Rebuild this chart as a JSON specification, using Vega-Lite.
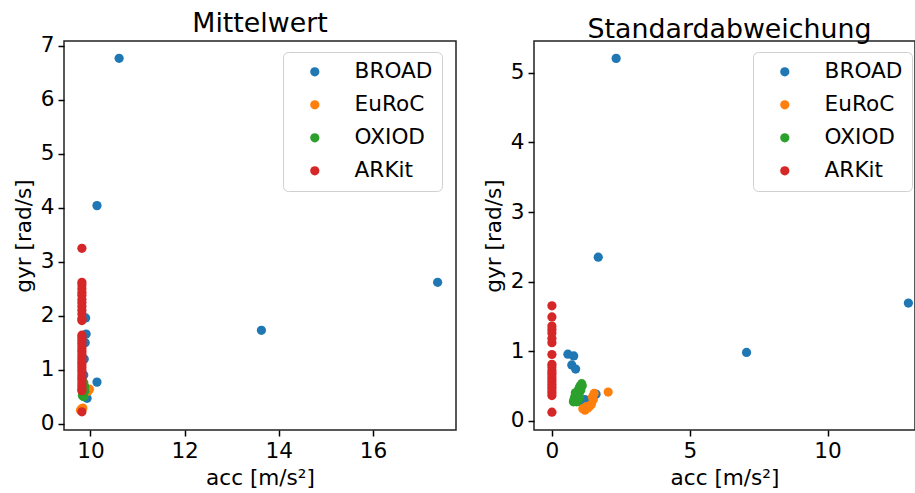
{
  "$schema": "https://vega.github.io/schema/vega-lite/v6.json",
  "background": "white",
  "padding": {"left": 12, "top": 10, "right": 0, "bottom": 0},
  "spacing": 78,
  "bounds": "flush",
  "datasets": {
    "mean": [
      {"Datensatz": "BROAD", "acc": 10.61, "gyr": 6.77},
      {"Datensatz": "BROAD", "acc": 10.14, "gyr": 4.04},
      {"Datensatz": "BROAD", "acc": 13.63, "gyr": 1.73},
      {"Datensatz": "BROAD", "acc": 17.37, "gyr": 2.62},
      {"Datensatz": "BROAD", "acc": 10.14, "gyr": 0.77},
      {"Datensatz": "BROAD", "acc": 9.9, "gyr": 1.96},
      {"Datensatz": "BROAD", "acc": 9.91, "gyr": 1.66},
      {"Datensatz": "BROAD", "acc": 9.89, "gyr": 1.5},
      {"Datensatz": "BROAD", "acc": 9.93, "gyr": 0.47},
      {"Datensatz": "BROAD", "acc": 9.87, "gyr": 1.2},
      {"Datensatz": "BROAD", "acc": 9.86, "gyr": 0.9},
      {"Datensatz": "EuRoC", "acc": 9.98, "gyr": 0.64},
      {"Datensatz": "EuRoC", "acc": 9.95, "gyr": 0.6},
      {"Datensatz": "EuRoC", "acc": 9.84, "gyr": 0.29},
      {"Datensatz": "EuRoC", "acc": 9.81, "gyr": 0.27},
      {"Datensatz": "EuRoC", "acc": 9.79, "gyr": 0.25},
      {"Datensatz": "OXIOD", "acc": 9.86, "gyr": 0.76},
      {"Datensatz": "OXIOD", "acc": 9.87, "gyr": 0.7},
      {"Datensatz": "OXIOD", "acc": 9.85, "gyr": 0.65},
      {"Datensatz": "OXIOD", "acc": 9.88, "gyr": 0.6},
      {"Datensatz": "OXIOD", "acc": 9.84, "gyr": 0.56},
      {"Datensatz": "OXIOD", "acc": 9.83, "gyr": 0.52},
      {"Datensatz": "OXIOD", "acc": 9.86, "gyr": 0.5},
      {"Datensatz": "OXIOD", "acc": 9.85, "gyr": 0.58},
      {"Datensatz": "OXIOD", "acc": 9.88, "gyr": 0.68},
      {"Datensatz": "ARKit", "acc": 9.82, "gyr": 3.25},
      {"Datensatz": "ARKit", "acc": 9.82, "gyr": 2.62},
      {"Datensatz": "ARKit", "acc": 9.82, "gyr": 2.57},
      {"Datensatz": "ARKit", "acc": 9.82, "gyr": 2.5},
      {"Datensatz": "ARKit", "acc": 9.82, "gyr": 2.43},
      {"Datensatz": "ARKit", "acc": 9.82, "gyr": 2.38},
      {"Datensatz": "ARKit", "acc": 9.82, "gyr": 2.3},
      {"Datensatz": "ARKit", "acc": 9.82, "gyr": 2.24},
      {"Datensatz": "ARKit", "acc": 9.82, "gyr": 2.17},
      {"Datensatz": "ARKit", "acc": 9.82, "gyr": 2.1},
      {"Datensatz": "ARKit", "acc": 9.82, "gyr": 2.03},
      {"Datensatz": "ARKit", "acc": 9.82, "gyr": 1.95},
      {"Datensatz": "ARKit", "acc": 9.82, "gyr": 1.91},
      {"Datensatz": "ARKit", "acc": 9.82, "gyr": 1.64},
      {"Datensatz": "ARKit", "acc": 9.82, "gyr": 1.59},
      {"Datensatz": "ARKit", "acc": 9.82, "gyr": 1.54},
      {"Datensatz": "ARKit", "acc": 9.82, "gyr": 1.49},
      {"Datensatz": "ARKit", "acc": 9.82, "gyr": 1.44},
      {"Datensatz": "ARKit", "acc": 9.82, "gyr": 1.39},
      {"Datensatz": "ARKit", "acc": 9.82, "gyr": 1.34},
      {"Datensatz": "ARKit", "acc": 9.82, "gyr": 1.29},
      {"Datensatz": "ARKit", "acc": 9.82, "gyr": 1.24},
      {"Datensatz": "ARKit", "acc": 9.82, "gyr": 1.19},
      {"Datensatz": "ARKit", "acc": 9.82, "gyr": 1.14},
      {"Datensatz": "ARKit", "acc": 9.82, "gyr": 1.09},
      {"Datensatz": "ARKit", "acc": 9.82, "gyr": 1.04},
      {"Datensatz": "ARKit", "acc": 9.82, "gyr": 0.99},
      {"Datensatz": "ARKit", "acc": 9.82, "gyr": 0.94},
      {"Datensatz": "ARKit", "acc": 9.82, "gyr": 0.89},
      {"Datensatz": "ARKit", "acc": 9.82, "gyr": 0.84},
      {"Datensatz": "ARKit", "acc": 9.82, "gyr": 0.79},
      {"Datensatz": "ARKit", "acc": 9.82, "gyr": 0.74},
      {"Datensatz": "ARKit", "acc": 9.82, "gyr": 0.69},
      {"Datensatz": "ARKit", "acc": 9.82, "gyr": 0.64},
      {"Datensatz": "ARKit", "acc": 9.82, "gyr": 0.61},
      {"Datensatz": "ARKit", "acc": 9.82, "gyr": 0.22}
    ],
    "std": [
      {"Datensatz": "BROAD", "acc": 2.33, "gyr": 5.21},
      {"Datensatz": "BROAD", "acc": 1.68, "gyr": 2.35},
      {"Datensatz": "BROAD", "acc": 7.06, "gyr": 0.98},
      {"Datensatz": "BROAD", "acc": 12.93, "gyr": 1.69},
      {"Datensatz": "BROAD", "acc": 0.58, "gyr": 0.955},
      {"Datensatz": "BROAD", "acc": 0.79, "gyr": 0.93},
      {"Datensatz": "BROAD", "acc": 0.72, "gyr": 0.8},
      {"Datensatz": "BROAD", "acc": 0.86, "gyr": 0.74},
      {"Datensatz": "BROAD", "acc": 1.6, "gyr": 0.38},
      {"Datensatz": "BROAD", "acc": 1.12, "gyr": 0.24},
      {"Datensatz": "BROAD", "acc": 1.2, "gyr": 0.3},
      {"Datensatz": "EuRoC", "acc": 2.04, "gyr": 0.41},
      {"Datensatz": "EuRoC", "acc": 1.53, "gyr": 0.39},
      {"Datensatz": "EuRoC", "acc": 1.47, "gyr": 0.34},
      {"Datensatz": "EuRoC", "acc": 1.5, "gyr": 0.3},
      {"Datensatz": "EuRoC", "acc": 1.43, "gyr": 0.23},
      {"Datensatz": "EuRoC", "acc": 1.35, "gyr": 0.2},
      {"Datensatz": "EuRoC", "acc": 1.24, "gyr": 0.2},
      {"Datensatz": "EuRoC", "acc": 1.3, "gyr": 0.18},
      {"Datensatz": "EuRoC", "acc": 1.2, "gyr": 0.15},
      {"Datensatz": "EuRoC", "acc": 1.12, "gyr": 0.17},
      {"Datensatz": "OXIOD", "acc": 0.78, "gyr": 0.27},
      {"Datensatz": "OXIOD", "acc": 0.8, "gyr": 0.3},
      {"Datensatz": "OXIOD", "acc": 0.82, "gyr": 0.33},
      {"Datensatz": "OXIOD", "acc": 0.85, "gyr": 0.29},
      {"Datensatz": "OXIOD", "acc": 0.86, "gyr": 0.36},
      {"Datensatz": "OXIOD", "acc": 0.88, "gyr": 0.32},
      {"Datensatz": "OXIOD", "acc": 0.9, "gyr": 0.39},
      {"Datensatz": "OXIOD", "acc": 0.92, "gyr": 0.35},
      {"Datensatz": "OXIOD", "acc": 0.94, "gyr": 0.42},
      {"Datensatz": "OXIOD", "acc": 0.95, "gyr": 0.3},
      {"Datensatz": "OXIOD", "acc": 0.97, "gyr": 0.45},
      {"Datensatz": "OXIOD", "acc": 0.99, "gyr": 0.4},
      {"Datensatz": "OXIOD", "acc": 1.0, "gyr": 0.48},
      {"Datensatz": "OXIOD", "acc": 1.03, "gyr": 0.5},
      {"Datensatz": "OXIOD", "acc": 1.05, "gyr": 0.44},
      {"Datensatz": "OXIOD", "acc": 1.08, "gyr": 0.53},
      {"Datensatz": "OXIOD", "acc": 1.1, "gyr": 0.5},
      {"Datensatz": "OXIOD", "acc": 0.9, "gyr": 0.27},
      {"Datensatz": "OXIOD", "acc": 1.0, "gyr": 0.34},
      {"Datensatz": "OXIOD", "acc": 0.85, "gyr": 0.4},
      {"Datensatz": "ARKit", "acc": 0.0, "gyr": 1.65},
      {"Datensatz": "ARKit", "acc": 0.0, "gyr": 1.49},
      {"Datensatz": "ARKit", "acc": 0.0, "gyr": 1.36},
      {"Datensatz": "ARKit", "acc": 0.0, "gyr": 1.31},
      {"Datensatz": "ARKit", "acc": 0.0, "gyr": 1.26},
      {"Datensatz": "ARKit", "acc": 0.0, "gyr": 1.18},
      {"Datensatz": "ARKit", "acc": 0.0, "gyr": 1.12},
      {"Datensatz": "ARKit", "acc": 0.0, "gyr": 0.95},
      {"Datensatz": "ARKit", "acc": 0.0, "gyr": 0.81},
      {"Datensatz": "ARKit", "acc": 0.0, "gyr": 0.77},
      {"Datensatz": "ARKit", "acc": 0.0, "gyr": 0.72},
      {"Datensatz": "ARKit", "acc": 0.0, "gyr": 0.68},
      {"Datensatz": "ARKit", "acc": 0.0, "gyr": 0.64},
      {"Datensatz": "ARKit", "acc": 0.0, "gyr": 0.6},
      {"Datensatz": "ARKit", "acc": 0.0, "gyr": 0.56},
      {"Datensatz": "ARKit", "acc": 0.0, "gyr": 0.52},
      {"Datensatz": "ARKit", "acc": 0.0, "gyr": 0.48},
      {"Datensatz": "ARKit", "acc": 0.0, "gyr": 0.44},
      {"Datensatz": "ARKit", "acc": 0.0, "gyr": 0.4},
      {"Datensatz": "ARKit", "acc": 0.0, "gyr": 0.36},
      {"Datensatz": "ARKit", "acc": 0.0, "gyr": 0.12}
    ]
  },
  "config": {
    "font": "DejaVu Sans",
    "view": {"stroke": "#222", "strokeWidth": 1.5},
    "axis": {
      "domain": false,
      "grid": false,
      "labelFont": "DejaVu Sans",
      "labelFontSize": 21.6,
      "labelColor": "#000",
      "tickColor": "#000",
      "tickSize": 6,
      "tickWidth": 1.5,
      "labelPadding": 4,
      "titleFont": "DejaVu Sans",
      "titleFontSize": 21.6,
      "titleFontWeight": "normal",
      "titleColor": "#000"
    },
    "title": {
      "font": "DejaVu Sans",
      "fontSize": 26.8,
      "fontWeight": "normal",
      "color": "#000",
      "baseline": "alphabetic",
      "offset": -3,
      "anchor": "middle"
    },
    "legend": {
      "labelFont": "DejaVu Sans",
      "labelFontSize": 21.6,
      "labelColor": "#000"
    }
  },
  "resolve": {
    "scale": {"x": "independent", "y": "independent", "color": "independent"},
    "legend": {"color": "independent"}
  },
  "hconcat": [
    {
      "width": 392,
      "height": 389,
      "title": {"text": "Mittelwert"},
      "data": {"name": "mean"},
      "mark": {"type": "point", "filled": true, "size": 85, "opacity": 1},
      "encoding": {
        "x": {
          "field": "acc", "type": "quantitative",
          "scale": {"domain": [9.44, 17.76], "nice": false, "zero": false},
          "axis": {"title": "acc [m/s²]", "values": [10, 12, 14, 16], "titlePadding": 6}
        },
        "y": {
          "field": "gyr", "type": "quantitative",
          "scale": {"domain": [-0.117, 7.09], "nice": false, "zero": false},
          "axis": {"title": "gyr [rad/s]", "values": [0, 1, 2, 3, 4, 5, 6, 7], "titlePadding": 5}
        },
        "color": {
          "field": "Datensatz", "type": "nominal",
          "scale": {"domain": ["BROAD", "EuRoC", "OXIOD", "ARKit"], "range": ["#1f77b4", "#ff7f0e", "#2ca02c", "#d62728"]},
          "legend": {
            "title": null, "orient": "none", "legendX": 219, "legendY": 11,
            "symbolType": "circle", "symbolSize": 85, "symbolStrokeWidth": 0,
            "strokeColor": "#d0d0d0", "fillColor": "#fff", "cornerRadius": 5,
            "padding": 9, "rowPadding": 10, "symbolOffset": 12, "labelOffset": 29
          }
        }
      }
    },
    {
      "width": 381,
      "height": 389,
      "title": {"text": "Standardabweichung", "dx": 5},
      "data": {"name": "std"},
      "mark": {"type": "point", "filled": true, "size": 85, "opacity": 1},
      "encoding": {
        "x": {
          "field": "acc", "type": "quantitative",
          "scale": {"domain": [-0.65, 13.17], "nice": false, "zero": false},
          "axis": {"title": "acc [m/s²]", "values": [0, 5, 10], "titlePadding": 6}
        },
        "y": {
          "field": "gyr", "type": "quantitative",
          "scale": {"domain": [-0.136, 5.46], "nice": false, "zero": false},
          "axis": {"title": "gyr [rad/s]", "values": [0, 1, 2, 3, 4, 5], "titlePadding": 5}
        },
        "color": {
          "field": "Datensatz", "type": "nominal",
          "scale": {"domain": ["BROAD", "EuRoC", "OXIOD", "ARKit"], "range": ["#1f77b4", "#ff7f0e", "#2ca02c", "#d62728"]},
          "legend": {
            "title": null, "orient": "none", "legendX": 219, "legendY": 11,
            "symbolType": "circle", "symbolSize": 85, "symbolStrokeWidth": 0,
            "strokeColor": "#d0d0d0", "fillColor": "#fff", "cornerRadius": 5,
            "padding": 9, "rowPadding": 10, "symbolOffset": 12, "labelOffset": 29
          }
        }
      }
    }
  ]
}
